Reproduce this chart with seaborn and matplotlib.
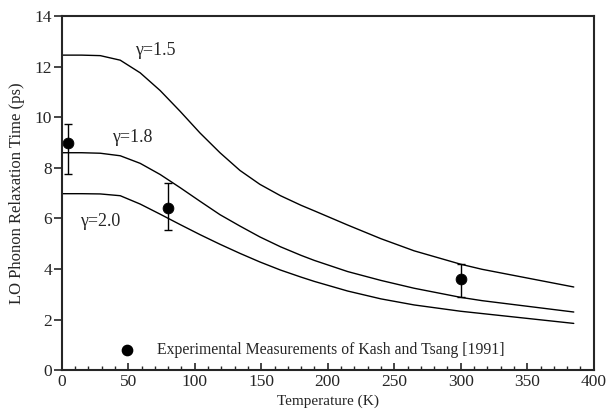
import matplotlib
matplotlib.use("Agg")
import matplotlib.pyplot as plt
import seaborn as sns
import pandas as pd
from matplotlib.ticker import MultipleLocator

# Theory curves
temp = [0, 15, 29, 44, 59, 74, 89, 104, 119, 134, 149, 164.5, 180, 190,
        215, 240, 265, 300, 316, 385]
tau_g15 = [12.46, 12.46, 12.44, 12.26, 11.76, 11.06, 10.24, 9.38, 8.6, 7.9, 7.35,
           6.9, 6.52, 6.3, 5.74, 5.2, 4.72, 4.19, 3.99, 3.29]
tau_g18 = [8.6, 8.6, 8.58, 8.48, 8.18, 7.74, 7.22, 6.68, 6.15, 5.7, 5.27,
           4.88, 4.54, 4.34, 3.9, 3.55, 3.24, 2.88, 2.75, 2.3]
tau_g20 = [6.98, 6.98, 6.97, 6.9, 6.57, 6.17, 5.76, 5.36, 4.98, 4.62, 4.28,
           3.96, 3.68, 3.51, 3.13, 2.82, 2.58, 2.33, 2.24, 1.85]
curve_labels = ["γ=1.5", "γ=1.8", "γ=2.0"]

# Experimental points
exp_T = [5, 80, 300]
exp_tau = [9.0, 6.4, 3.6]
exp_lo = [7.75, 5.55, 2.9]
exp_hi = [9.75, 7.4, 4.2]
legend_text = "Experimental Measurements of Kash and Tsang [1991]"

sns.set_style("ticks")
plt.rcParams['font.family'] = ['Liberation Serif', 'DejaVu Serif']

fig = plt.figure(figsize=(6.08, 4.15), dpi=100)
ax = fig.add_axes([0.1015, 0.108, 0.875, 0.853])

rows = []
for lab, vals in zip(curve_labels, [tau_g15, tau_g18, tau_g20]):
    for t, v in zip(temp, vals):
        rows.append({"T": t, "tau": v, "curve": lab})
df = pd.DataFrame(rows)
sns.lineplot(data=df, x="T", y="tau", hue="curve",
             palette=["black"] * 3, linewidth=1.0, legend=False, ax=ax)

edf = pd.DataFrame({"T": exp_T, "tau": exp_tau})
yerr = [[m - l for m, l in zip(exp_tau, exp_lo)], [h - m for m, h in zip(exp_tau, exp_hi)]]
ax.errorbar(exp_T, exp_tau, yerr=yerr, fmt="none", ecolor="black", elinewidth=1.0,
            capsize=3, capthick=1.0)
sns.scatterplot(data=edf, x="T", y="tau", color="black", s=60, edgecolor="black",
                zorder=5, ax=ax)

# curve labels
ax.text(55, 12.66, curve_labels[0], fontsize=13, ha="left", va="center")
ax.text(37.5, 9.19, curve_labels[1], fontsize=13, ha="left", va="center")
ax.text(13.6, 5.87, curve_labels[2], fontsize=13, ha="left", va="center")

# legend-like annotation
ax.scatter([49.3], [0.79], s=55, color="black")
ax.text(72, 0.79, legend_text, fontsize=11.3, ha="left", va="center")

ax.set_xlim(0, 400)
ax.set_ylim(0, 14)
ax.xaxis.set_major_locator(MultipleLocator(50))
ax.xaxis.set_minor_locator(MultipleLocator(10))
ax.yaxis.set_major_locator(MultipleLocator(2))
ax.tick_params(axis="x", which="both", direction="in", labelsize=12.5, pad=3)
ax.tick_params(axis="x", which="major", length=5, width=1.2)
ax.tick_params(axis="x", which="minor", length=3, width=1.0)
ax.tick_params(axis="y", which="major", direction="out", length=6, width=1.2,
               labelsize=12.5, pad=1)
for s in ax.spines.values():
    s.set_linewidth(1.5)
    s.set_visible(True)
ax.set_xlabel("Temperature (K)", fontsize=11, labelpad=3)
ax.set_ylabel("LO Phonon Relaxation Time (ps)", fontsize=12, labelpad=7)

fig.savefig("out.png", dpi=100)
